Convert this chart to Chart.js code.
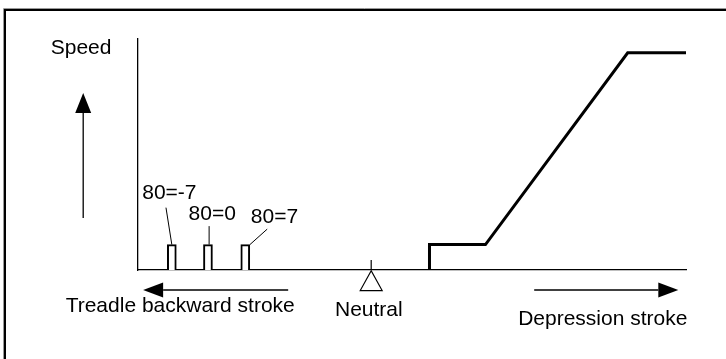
<!DOCTYPE html>
<html>
<head>
<meta charset="utf-8">
<script src="https://cdn.jsdelivr.net/npm/chart.js@4/dist/chart.umd.min.js"></script>
<style>
  html, body { margin: 0; padding: 0; background: #fff; }
  canvas { display: block; }
</style>
</head>
<body>
<canvas id="c" width="726" height="359"></canvas>
<script>
// speed curve vs treadle position (neutral = 0, backward < 0, depression > 0)
const curveX = [25, 25, 49, 110, 135];
const curveY = [0, 11, 11, 94, 94];
// the three backward-stroke positions
const markX = [-85.5, -70, -54];
const markY = [11, 11, 11];
const markLabels = ['80=-7', '80=0', '80=7'];

const FONT = '21px Arial, "Liberation Sans", sans-serif';

// extra drawing: labels, leaders, arrows, neutral marker, frame
const notes = {
  id: 'notes',
  afterDraw(chart) {
    const { ctx, scales: { x, y } } = chart;
    const px = v => x.getPixelForValue(v), py = v => y.getPixelForValue(v);
    ctx.save();
    ctx.fillStyle = '#000'; ctx.strokeStyle = '#000';
    ctx.font = FONT;
    ctx.textBaseline = 'alphabetic';

    // bar labels + leader lines (label pos and leader start in data units)
    const lab = [[-98.2, 30.7], [-78.3, 21.6], [-51.6, 20.3]];
    const lead = [[-88, 27, markX[0], markY[0]], [-69.5, 19, -69.5, markY[1]], [-44.6, 17.7, -52, markY[2]]];
    ctx.textAlign = 'left';
    markLabels.forEach((t, i) => {
      ctx.fillText(t, px(lab[i][0]), py(lab[i][1]));
      ctx.lineWidth = 1;
      ctx.beginPath();
      ctx.moveTo(px(lead[i][0]), py(lead[i][1]));
      ctx.lineTo(px(lead[i][2]), py(lead[i][3]));
      ctx.stroke();
    });

    // captions
    ctx.textAlign = 'center';
    ctx.fillText('Speed', px(-124.4), py(93.7));
    ctx.fillText('Treadle backward stroke', px(-81.9), py(-18));
    ctx.fillText('Neutral', px(-1), py(-20.1));
    ctx.fillText('Depression stroke', px(99.3), py(-23.8));

    function arrow(x0, y0, x1, y1, headLen, headHalf) {
      const ang = Math.atan2(y1 - y0, x1 - x0);
      const bx = x1 - Math.cos(ang) * headLen, by = y1 - Math.sin(ang) * headLen;
      ctx.lineWidth = 1.3;
      ctx.beginPath(); ctx.moveTo(x0, y0); ctx.lineTo(bx, by); ctx.stroke();
      ctx.beginPath();
      ctx.moveTo(x1, y1);
      ctx.lineTo(bx - Math.sin(ang) * headHalf, by + Math.cos(ang) * headHalf);
      ctx.lineTo(bx + Math.sin(ang) * headHalf, by - Math.cos(ang) * headHalf);
      ctx.closePath(); ctx.fill();
    }
    arrow(px(-123.5), py(22.5), px(-123.5), py(76.6), 20, 8);
    arrow(px(-35.6), py(-8.66), px(-97.8), py(-8.66), 20, 7.5);
    arrow(px(69.9), py(-8.66), px(131.7), py(-8.66), 20, 7.5);

    // neutral marker
    ctx.lineWidth = 1.2;
    ctx.beginPath(); ctx.moveTo(px(0), py(4.3)); ctx.lineTo(px(0), py(0)); ctx.stroke();
    ctx.beginPath();
    ctx.moveTo(px(0), py(-0.3));
    ctx.lineTo(px(-4.7), py(-8.9));
    ctx.lineTo(px(4.7), py(-8.9));
    ctx.closePath();
    ctx.fillStyle = '#fff'; ctx.fill(); ctx.stroke();

    // outer frame (top and left edges visible)
    ctx.strokeStyle = '#999'; ctx.lineWidth = 1;
    ctx.beginPath(); ctx.moveTo(3.5, chart.height); ctx.lineTo(3.5, 8.5); ctx.lineTo(chart.width, 8.5); ctx.stroke();
    ctx.strokeStyle = '#000'; ctx.lineWidth = 2;
    ctx.beginPath(); ctx.moveTo(5, chart.height); ctx.lineTo(5, 10); ctx.lineTo(chart.width, 10); ctx.stroke();
    ctx.restore();
  }
};

new Chart(document.getElementById('c'), {
  type: 'line',
  data: {
    datasets: [
      {
        type: 'line',
        data: curveX.map((v, i) => ({ x: v, y: curveY[i] })),
        borderColor: '#000', borderWidth: 3, pointRadius: 0, tension: 0, fill: false,
        borderJoinStyle: 'miter', clip: false
      },
      {
        type: 'bar',
        data: markX.map((v, i) => ({ x: v, y: markY[i] })),
        backgroundColor: '#fff', borderColor: '#000', borderWidth: 2,
        barThickness: 9, borderSkipped: 'bottom'
      }
    ]
  },
  options: {
    responsive: false,
    animation: false,
    layout: { padding: { left: 138, top: 39, right: 40, bottom: 89 } },
    plugins: { legend: { display: false }, tooltip: { enabled: false } },
    scales: {
      x: {
        type: 'linear', min: -100, max: 135, offset: false,
        grid: { display: false, drawTicks: false, offset: false },
        ticks: { display: false },
        border: { color: '#000', width: 1.3 }
      },
      y: {
        type: 'linear', min: 0, max: 100,
        grid: { display: false, drawTicks: false },
        ticks: { display: false },
        border: { color: '#000', width: 1.3 }
      }
    }
  },
  plugins: [notes]
});
</script>
</body>
</html>
